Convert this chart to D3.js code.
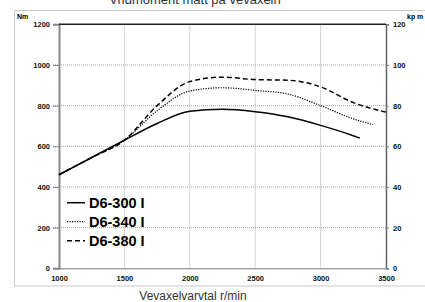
<!DOCTYPE html>
<html>
<head>
<meta charset="utf-8">
<script src="https://cdn.jsdelivr.net/npm/d3@7"></script>
<style>
  body { margin: 0; background: #fff; }
  svg { display: block; font-family: "Liberation Sans", Arial, sans-serif; }
</style>
</head>
<body>
<div id="chart"></div>
<script>
// chart data
var rpm = [1000, 1250, 1500, 1750, 2000, 2250, 2500, 2750, 3000, 3250];
var d6_300 = [460, 545, 630, 712, 772, 782, 770, 745, 703, 652];
var d6_340 = [460, 545, 630, 775, 872, 888, 875, 857, 800, 735];
var d6_380 = [460, 545, 630, 800, 918, 940, 928, 925, 892, 815];
// last points of each curve
var endRpm = [3300, 3400, 3500];
var endVal = [640, 707, 768];

var seriesNames = ["D6-300 I", "D6-340 I", "D6-380 I"];
var xTicks = [1000, 1500, 2000, 2500, 3000, 3500];
var yTicks = [0, 200, 400, 600, 800, 1000, 1200];
var kpTicks = [0, 20, 40, 60, 80, 100, 120];

var svgWidth = 425;
var svgHeight = 302;

var margin = { top: 24.3, right: 39, bottom: 33.7, left: 59 };
var chartWidth = svgWidth - margin.left - margin.right;
var chartHeight = svgHeight - margin.top - margin.bottom;

var svg = d3.select("#chart")
  .append("svg")
  .attr("width", svgWidth)
  .attr("height", svgHeight);

// outer frame
svg.append("rect")
  .attr("x", 14.5)
  .attr("y", 10.5)
  .attr("width", 420)
  .attr("height", 275.5)
  .attr("fill", "none")
  .attr("stroke", "#c8c8c8")
  .attr("stroke-width", 1);

// title, mostly cut off at the top like in the original
svg.append("text")
  .attr("x", 195)
  .attr("y", 3.5)
  .attr("text-anchor", "middle")
  .style("font-size", "13px")
  .attr("fill", "#333")
  .text("Vridmoment mätt på vevaxeln");

var chartGroup = svg.append("g")
  .attr("transform", `translate(${margin.left}, ${margin.top})`);

var xScale = d3.scaleLinear()
  .domain([1000, 3500])
  .range([0, chartWidth]);

var yScale = d3.scaleLinear()
  .domain([0, 1200])
  .range([chartHeight, 0]);

var kpScale = d3.scaleLinear()
  .domain([0, 120])
  .range([chartHeight, 0]);

// grid lines
chartGroup.append("g")
  .selectAll("line")
  .data(yTicks.slice(1, -1))
  .enter()
  .append("line")
  .attr("x1", -6)
  .attr("x2", chartWidth)
  .attr("y1", d => yScale(d))
  .attr("y2", d => yScale(d))
  .attr("stroke", "#a8a8a8")
  .attr("stroke-dasharray", "1,1");

chartGroup.append("g")
  .selectAll("line")
  .data(xTicks.slice(1, -1))
  .enter()
  .append("line")
  .attr("x1", d => xScale(d))
  .attr("x2", d => xScale(d))
  .attr("y1", 0)
  .attr("y2", chartHeight)
  .attr("stroke", "#a8a8a8")
  .attr("stroke-dasharray", "1,1");

// axes
var fmt = d3.format("d");
var bottomAxis = d3.axisBottom(xScale).tickValues(xTicks).tickFormat(fmt).tickSize(0).tickPadding(7);
var leftAxis = d3.axisLeft(yScale).tickValues(yTicks).tickFormat(fmt).tickSize(6).tickPadding(3);
var rightAxis = d3.axisRight(kpScale).tickValues(kpTicks).tickFormat(fmt).tickSize(3).tickPadding(4);

var gx = chartGroup.append("g")
  .attr("transform", `translate(0, ${chartHeight})`)
  .call(bottomAxis);

var gy = chartGroup.append("g")
  .call(leftAxis);

var gr = chartGroup.append("g")
  .attr("transform", `translate(${chartWidth}, 0)`)
  .call(rightAxis);

[gx, gy, gr].forEach(function(g) {
  g.selectAll("text")
    .style("font-size", "7.5px")
    .style("font-weight", "bold")
    .attr("fill", "#111");
  g.selectAll(".tick line").attr("stroke", "#888");
});
gx.select(".domain").attr("stroke", "#777").attr("stroke-width", 1);
gy.select(".domain").attr("stroke", "#888").attr("stroke-width", 2);
gr.select(".domain").attr("stroke", "#666").attr("stroke-width", 1.5);

// top border of plot area
chartGroup.append("line")
  .attr("x1", 0)
  .attr("x2", chartWidth)
  .attr("y1", 0)
  .attr("y2", 0)
  .attr("stroke", "#222")
  .attr("stroke-width", 1.5);

// unit labels
svg.append("text")
  .attr("x", 17)
  .attr("y", 19)
  .style("font-size", "7px")
  .style("font-weight", "bold")
  .text("Nm");

svg.append("text")
  .attr("x", 407)
  .attr("y", 19)
  .style("font-size", "7px")
  .style("font-weight", "bold")
  .text("kp m");

// the curves
var allSeries = [d6_300, d6_340, d6_380].map(function(vals, i) {
  var pts = rpm.map((r, j) => ({ rpm: r, v: vals[j] }));
  pts.push({ rpm: endRpm[i], v: endVal[i] });
  return pts;
});

var dashes = [null, "1.2,1.3", "5,3"];
var widths = [1.5, 1.2, 1.5];

var line = d3.line()
  .x(d => xScale(d.rpm))
  .y(d => yScale(d.v))
  .curve(d3.curveMonotoneX);

chartGroup.selectAll(".curve")
  .data(allSeries)
  .enter()
  .append("path")
  .attr("class", "curve")
  .attr("d", line)
  .attr("fill", "none")
  .attr("stroke", "#000")
  .attr("stroke-width", (d, i) => widths[i])
  .attr("stroke-dasharray", (d, i) => dashes[i]);

// legend
var legend = svg.append("g");
seriesNames.forEach(function(name, i) {
  var ly = 202.7 + i * 19;
  legend.append("line")
    .attr("x1", 67)
    .attr("x2", 85)
    .attr("y1", ly)
    .attr("y2", ly)
    .attr("stroke", "#000")
    .attr("stroke-width", widths[i])
    .attr("stroke-dasharray", dashes[i]);
  legend.append("text")
    .attr("x", 89)
    .attr("y", ly + 5)
    .style("font-size", "14.5px")
    .style("font-weight", "bold")
    .text(name);
});

// x axis label
svg.append("text")
  .attr("x", 193)
  .attr("y", 299.5)
  .attr("text-anchor", "middle")
  .style("font-size", "12px")
  .attr("fill", "#333")
  .text("Vevaxelvarvtal r/min");
</script>
</body>
</html>
